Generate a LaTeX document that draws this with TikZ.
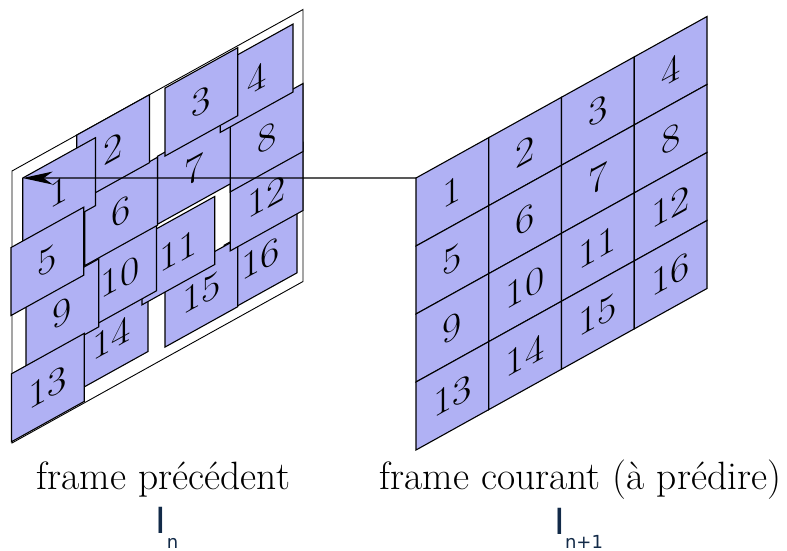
\documentclass[tikz,border=0pt]{standalone}
\usepackage{fontspec}
\newfontfamily\dejavu{DejaVu Sans}
\usetikzlibrary{arrows.meta}
\definecolor{blockfill}{RGB}{176,177,244}
\definecolor{inavy}{RGB}{18,42,72}
\begin{document}
\begin{tikzpicture}[x=1pt,y=-1pt,
  blk/.style={draw=black, fill=blockfill, line width=1.1pt, minimum width=72.75pt, minimum height=68pt, inner sep=0pt, outer sep=0pt, transform shape},
  num/.style={font=\fontsize{38}{46}\selectfont, inner sep=0pt, outer sep=0pt, transform shape, xscale=1.1},
  captext/.style={font=\fontsize{39.5}{47}\selectfont, anchor=base, inner sep=0pt},
  bigI/.style={font=\dejavu\fontsize{36}{43}\selectfont, text=inavy, anchor=base, inner sep=0pt},
  subI/.style={font=\dejavu\fontsize{18}{22}\selectfont, text=inavy, anchor=base, inner sep=0pt},
  frm/.style={draw=black, fill=white, line width=0.9pt, minimum width=291pt, minimum height=272pt, inner sep=0pt, outer sep=0pt, transform shape}]
\useasboundingbox (0,0) rectangle (787,551);

% previous frame (displaced blocks)
\begin{scope}[cm={1,0.555,0,1,(12,171)}]
  \node[frm] (F) at (145.5,136) {};
  \foreach \k/\u/\v in {16/248.625/226, 15/189.375/227, 14/99.625/222, 11/166.375/172,
                        10/108.125/166, 12/254.625/167, 8/254.625/108, 7/181.875/100,
                        6/109.125/101, 2/101.125/34, 1/47.075/47, 4/244.625/43,
                        3/189.375/36, 9/50.375/170, 5/35.375/110, 13/35.875/236.5}
    {\node[blk] (L\k) at (\u,\v) {};}
  \foreach \k in {1,...,16}
    {\node[num] (LT\k) at (L\k.center) {\k};}
\end{scope}

% current frame (regular grid)
\begin{scope}[cm={1,0.555,0,1,(416,178)}]
  \foreach \i in {0,...,3}
    \foreach \j in {0,...,3}
      {\pgfmathtruncatemacro\k{4*\i+\j+1}
       \node[blk] (R\k) at ({36.375+72.75*\j},{34+68*\i}) {};}
  \foreach \k in {1,...,16}
    {\node[num] (RT\k) at (R\k.center) {\k};}
\end{scope}

% motion vector
\draw[line width=1.2pt, -{Stealth[length=30pt,width=13pt,inset=9pt]}] (R1.north west) -- (L1.north west);

% captions
\node[captext] (capL) at (163.5,489) {frame précédent};
\node[captext] (capR) at (580.5,489) {frame courant (à prédire)};
\node[bigI] (In) at (161,533) {I};
\node[subI] (Insub) at (172.5,548) {n};
\node[bigI] (Inp) at (560,534) {I};
\node[subI] (Inpsub) at (584,548) {n+1};
\end{tikzpicture}
\end{document}
